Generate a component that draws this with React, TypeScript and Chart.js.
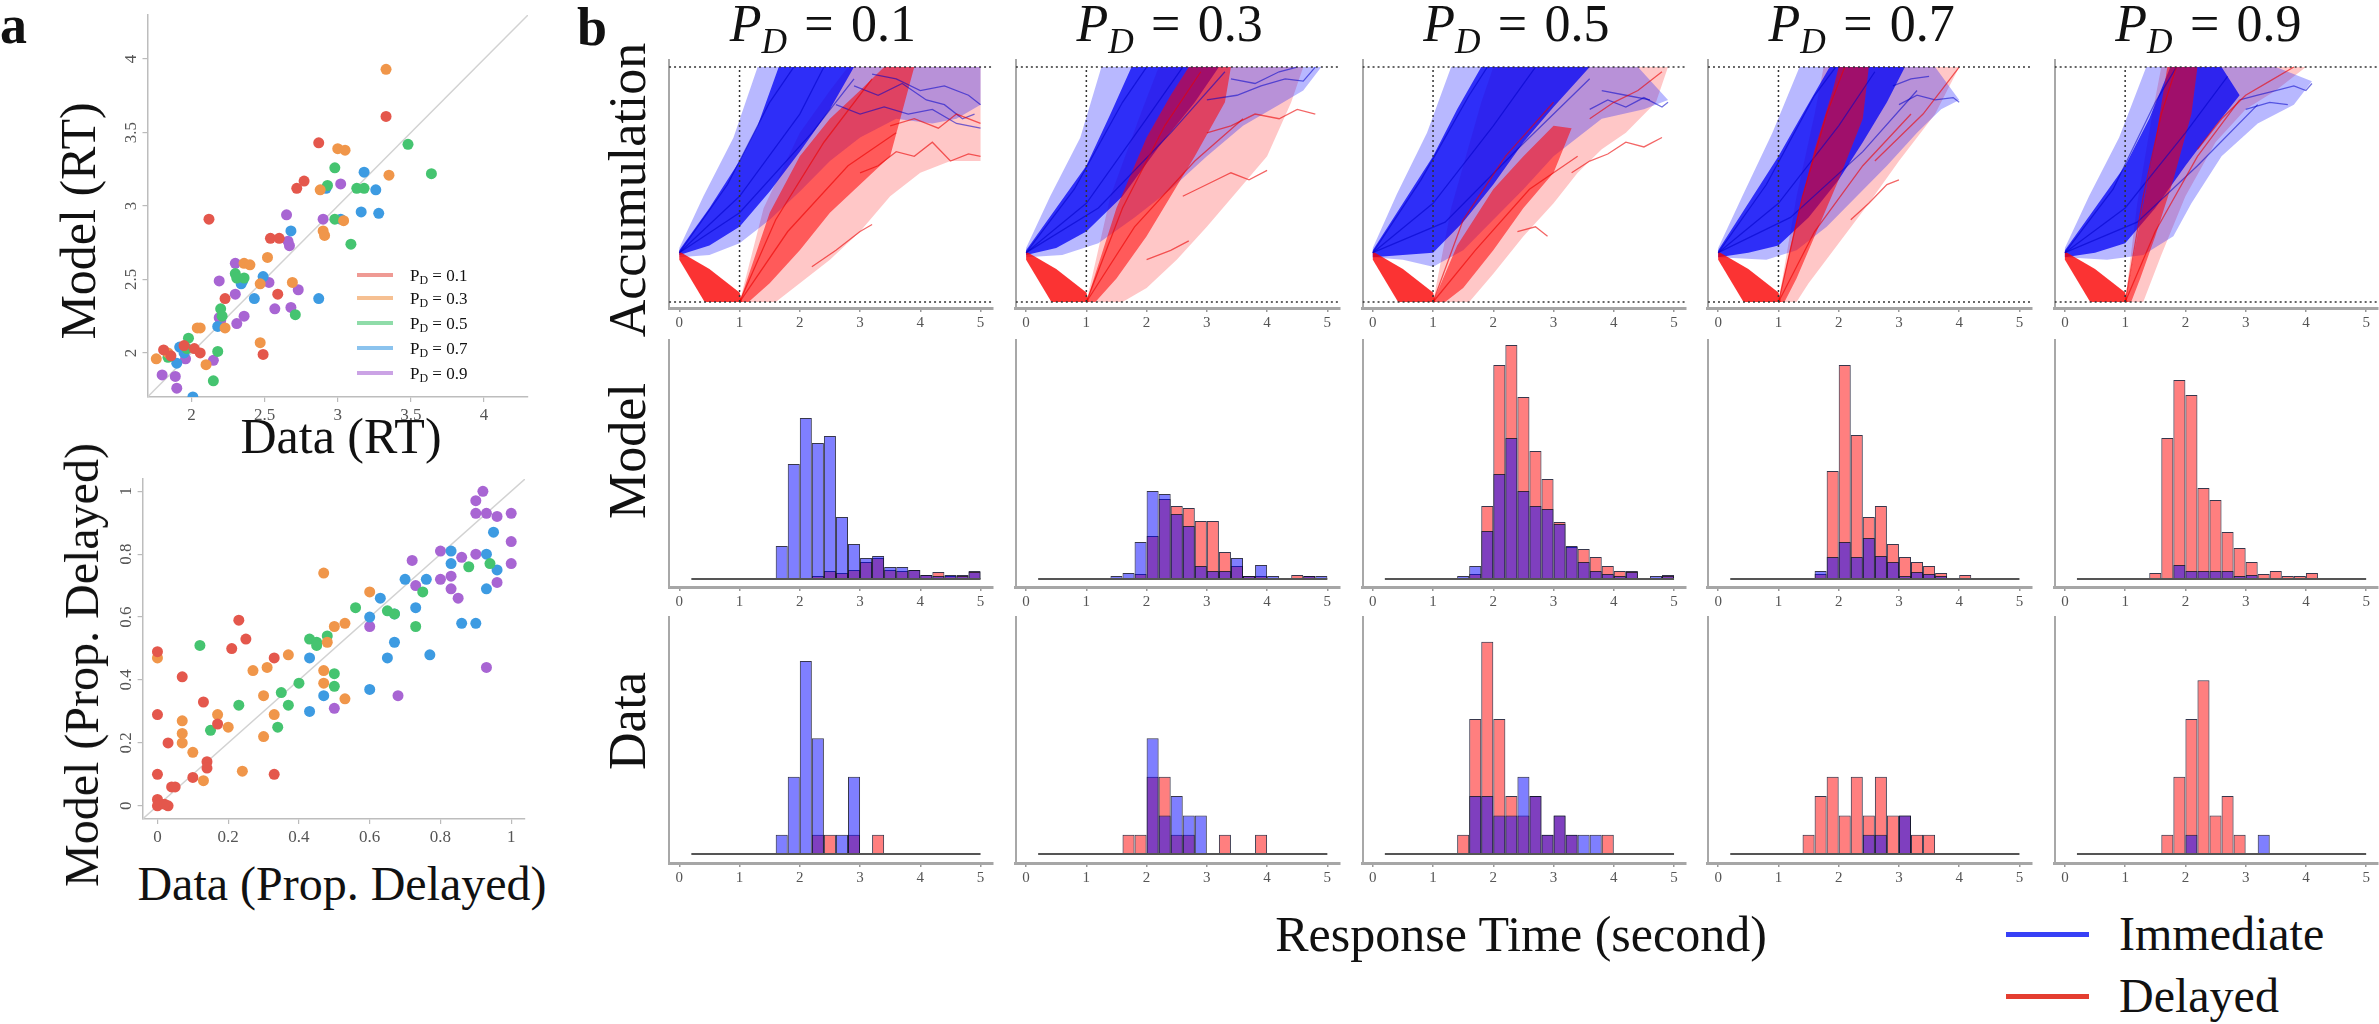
import React, { useEffect, useRef } from "react";
import { Chart, registerables } from "chart.js";

Chart.register(...registerables);

const SERIF = "'Liberation Serif', 'Times New Roman', 'DejaVu Serif', serif";

// ================= Panel a : scatter data =================
const RT_PD01 = [[3.33,3.61],[2.87,3.43],[2.77,3.17],[2.72,3.12],[2.12,2.91],[2.54,2.78],[2.60,2.78],[2.59,2.40],[2.23,2.37],[2.49,1.99],[2.06,2.00],[1.81,2.02],[2.02,2.03],[1.86,1.98],[1.95,2.05]];
const RT_PD03 = [[3.33,3.93],[3.00,3.39],[3.05,3.38],[3.35,3.21],[2.88,3.11],[3.04,2.90],[2.90,2.83],[2.91,2.80],[2.52,2.65],[2.36,2.61],[2.40,2.60],[2.69,2.48],[2.47,2.47],[2.47,2.07],[2.04,2.17],[2.06,2.17],[2.23,2.17],[2.10,1.92],[1.84,2.00],[1.76,1.96]];
const RT_PD05 = [[3.48,3.42],[3.64,3.22],[2.98,3.26],[3.13,3.12],[3.18,3.12],[2.93,3.14],[2.98,2.91],[3.09,2.74],[2.71,2.26],[2.30,2.54],[2.31,2.51],[2.36,2.51],[2.20,2.30],[2.21,2.25],[1.98,2.10],[1.97,2.03],[2.18,2.01],[2.15,1.81],[1.84,1.97]];
const RT_PD07 = [[3.18,3.23],[2.92,3.12],[3.26,3.11],[3.16,2.96],[3.28,2.95],[3.02,2.91],[2.68,2.83],[2.49,2.52],[2.43,2.37],[2.87,2.37],[2.34,2.47],[2.35,2.49],[2.18,2.18],[1.92,2.04],[1.95,2.00],[1.90,1.93],[2.01,1.70]];
const RT_PD09 = [[2.65,2.94],[2.90,2.91],[3.02,3.15],[2.66,2.76],[2.67,2.73],[2.30,2.61],[2.19,2.49],[2.53,2.48],[2.73,2.43],[2.57,2.30],[2.68,2.31],[2.31,2.20],[2.36,2.25],[2.30,2.40],[2.19,2.24],[2.20,2.22],[2.15,1.95],[1.96,1.96],[1.80,1.85],[1.89,1.84],[1.90,1.76]];

const PROP_PD01 = [[0,0.49],[0.07,0.41],[0,0.29],[0.03,0.20],[0,0.10],[0.04,0.06],[0.05,0.06],[0,0.02],[0,0],[0.03,0],[0.02,0.005],[0.10,0.09],[0.14,0.14],[0.14,0.12],[0.13,0.33],[0.21,0.50],[0.23,0.59],[0.25,0.53],[0.33,0.47],[0.33,0.10],[0.17,0.26]];
const PROP_PD03 = [[0,0.47],[0.07,0.27],[0.07,0.23],[0.07,0.20],[0.10,0.17],[0.13,0.08],[0.17,0.29],[0.20,0.25],[0.24,0.11],[0.27,0.43],[0.31,0.44],[0.30,0.35],[0.30,0.22],[0.33,0.29],[0.37,0.48],[0.47,0.74],[0.47,0.43],[0.47,0.39],[0.48,0.52],[0.50,0.57],[0.53,0.58],[0.53,0.34],[0.60,0.68]];
const PROP_PD05 = [[0.12,0.51],[0.15,0.24],[0.23,0.32],[0.35,0.36],[0.37,0.32],[0.34,0.25],[0.40,0.39],[0.43,0.53],[0.45,0.52],[0.45,0.51],[0.48,0.54],[0.50,0.42],[0.50,0.38],[0.56,0.63],[0.65,0.62],[0.67,0.61],[0.73,0.57],[0.75,0.68],[0.88,0.76],[0.94,0.77]];
const PROP_PD07 = [[0.43,0.47],[0.43,0.30],[0.47,0.35],[0.60,0.37],[0.60,0.60],[0.63,0.66],[0.67,0.61],[0.67,0.52],[0.65,0.47],[0.70,0.72],[0.73,0.63],[0.76,0.72],[0.77,0.48],[0.83,0.81],[0.83,0.77],[0.86,0.58],[0.90,0.58],[0.93,0.80],[0.93,0.69],[0.95,0.87],[0.96,0.75]];
const PROP_PD09 = [[0.90,0.97],[0.92,1.0],[0.90,0.93],[0.93,0.93],[0.96,0.92],[1.0,0.93],[1.0,0.84],[1.0,0.77],[0.96,0.71],[0.90,0.80],[0.86,0.79],[0.80,0.81],[0.72,0.78],[0.80,0.72],[0.83,0.73],[0.83,0.69],[0.85,0.66],[0.73,0.70],[0.60,0.57],[0.93,0.44],[0.68,0.35],[0.50,0.31]];

const GROUP_LABELS = ["0.1", "0.3", "0.5", "0.7", "0.9"];
const GROUP_COLORS = ["#E4574C", "#F0964A", "#45C470", "#3D9BE2", "#A865D3"];
const LEGEND_COLORS = ["rgba(228,87,76,0.6)", "rgba(240,150,74,0.6)", "rgba(69,196,112,0.6)", "rgba(61,155,226,0.6)", "rgba(168,101,211,0.6)"];

// ================= Panel b : accumulation traces (envelopes) =================
const RED_WEDGE = [[0,0.215],[0.5,0.14],[1.0,0.04],[1.04,0],[0.42,0],[0,0.18]];

const ACC_BLUE_HALO = [
  [[0,0.23],[0.4,0.45],[0.9,0.70],[1.3,1.0],[5.0,1.0],[5.0,0.84],[4.6,0.78],[4.2,0.76],[3.6,0.78],[3.0,0.70],[2.5,0.60],[2.0,0.47],[1.5,0.35],[1.0,0.25],[0.5,0.20],[0,0.19]],
  [[0,0.23],[0.4,0.45],[0.9,0.70],[1.25,1.0],[4.9,1.0],[4.6,0.90],[4.2,0.84],[3.6,0.75],[3.0,0.62],[2.4,0.48],[1.8,0.36],[1.2,0.25],[0.6,0.20],[0,0.19]],
  [[0,0.23],[0.4,0.46],[0.9,0.72],[1.3,1.0],[4.4,1.0],[4.9,0.86],[4.5,0.82],[3.8,0.78],[3.0,0.62],[2.5,0.48],[2.0,0.35],[1.5,0.22],[1.0,0.15],[0.5,0.18],[0,0.19]],
  [[0,0.23],[0.4,0.45],[0.9,0.72],[1.35,1.0],[3.6,1.0],[4.0,0.86],[3.7,0.82],[3.3,0.72],[2.8,0.58],[2.3,0.45],[1.8,0.32],[1.3,0.22],[0.8,0.18],[0,0.19]],
  [[0,0.23],[0.4,0.45],[0.9,0.70],[1.35,1.0],[3.5,1.0],[4.1,0.94],[3.8,0.84],[3.2,0.76],[2.6,0.62],[2.1,0.42],[1.8,0.28],[1.3,0.20],[0.7,0.18],[0,0.19]],
];
const ACC_BLUE_CORE = [
  [[0,0.22],[0.5,0.40],[1.0,0.60],[1.3,0.75],[1.65,1.0],[2.9,1.0],[2.5,0.82],[2.0,0.64],[1.5,0.47],[1.0,0.32],[0.5,0.24],[0,0.20]],
  [[0,0.22],[0.5,0.40],[1.0,0.58],[1.4,0.80],[1.75,1.0],[3.2,1.0],[2.8,0.85],[2.2,0.66],[1.6,0.45],[1.0,0.30],[0.5,0.23],[0,0.20]],
  [[0,0.22],[0.5,0.42],[1.0,0.62],[1.4,0.82],[1.8,1.0],[3.6,1.0],[3.0,0.83],[2.5,0.68],[2.0,0.50],[1.5,0.34],[1.0,0.21],[0.5,0.20],[0,0.19]],
  [[0,0.22],[0.5,0.42],[1.0,0.62],[1.4,0.80],[1.85,1.0],[3.1,1.0],[2.8,0.85],[2.4,0.68],[2.0,0.52],[1.5,0.36],[1.0,0.24],[0.5,0.21],[0,0.19]],
  [[0,0.22],[0.5,0.40],[1.0,0.58],[1.4,0.78],[1.75,1.0],[2.6,1.0],[2.9,0.88],[2.5,0.75],[2.0,0.58],[1.5,0.40],[1.0,0.25],[0.5,0.21],[0,0.19]],
];
const ACC_RED_CORE = [
  [[1.0,0],[1.5,0.38],[2.0,0.62],[2.5,0.78],[3.0,0.90],[3.4,1.0],[3.9,1.0],[3.5,0.62],[3.0,0.50],[2.5,0.38],[2.0,0.22],[1.5,0.08],[1.15,0]],
  [[1.0,0],[1.5,0.40],[2.0,0.70],[2.4,0.88],[2.7,1.0],[3.4,1.0],[3.3,0.85],[2.8,0.62],[2.4,0.45],[2.0,0.28],[1.5,0.10],[1.15,0]],
  [[1.0,0],[1.4,0.24],[2.0,0.48],[2.5,0.62],[3.0,0.75],[3.3,0.74],[3.0,0.55],[2.5,0.40],[2.0,0.22],[1.5,0.06],[1.2,0]],
  [[1.0,0],[1.3,0.35],[1.6,0.65],[1.9,0.90],[2.0,1.0],[2.5,1.0],[2.4,0.78],[2.0,0.52],[1.6,0.28],[1.3,0.10],[1.1,0]],
  [[1.0,0],[1.25,0.35],[1.5,0.68],[1.7,1.0],[2.2,1.0],[2.1,0.80],[1.8,0.52],[1.5,0.28],[1.25,0.10],[1.1,0]],
];
const ACC_RED_HALO = [
  [[1.0,0],[1.4,0.40],[2.0,0.72],[2.5,0.90],[2.8,1.0],[5.0,1.0],[5.0,0.60],[4.5,0.60],[4.0,0.55],[3.5,0.45],[3.0,0.30],[2.5,0.18],[2.0,0.08],[1.6,0]],
  [[1.0,0],[1.4,0.45],[1.9,0.80],[2.2,1.0],[4.6,1.0],[4.4,0.85],[4.0,0.62],[3.6,0.50],[3.0,0.32],[2.5,0.18],[2.0,0.06],[1.6,0]],
  [[1.0,0],[1.3,0.40],[1.8,0.85],[2.0,1.0],[4.9,1.0],[4.7,0.85],[4.2,0.72],[3.8,0.65],[3.4,0.55],[3.0,0.42],[2.5,0.28],[2.0,0.12],[1.6,0]],
  [[1.0,0],[1.3,0.45],[1.6,0.80],[1.75,1.0],[4.0,1.0],[3.6,0.80],[3.0,0.60],[2.5,0.42],[2.0,0.25],[1.5,0.08],[1.3,0]],
  [[1.0,0],[1.2,0.42],[1.45,0.80],[1.6,1.0],[4.0,1.0],[3.5,0.90],[3.0,0.82],[2.5,0.68],[2.0,0.45],[1.6,0.20],[1.3,0]],
];
const ACC_BLUE_TRACES = [
  [[[2.9,0.92],[3.3,0.88],[3.7,0.93],[4.1,0.86],[4.4,0.84],[4.7,0.78],[4.9,0.80]], [[3.2,0.97],[3.6,0.95],[4.0,0.90],[4.4,0.92],[4.8,0.88],[5.0,0.84]], [[2.6,0.84],[3.0,0.80],[3.4,0.83],[3.8,0.80],[4.2,0.82],[4.6,0.76],[5.0,0.74]], [[0,0.21],[0.8,0.50],[1.5,0.85],[1.9,1.0]], [[0,0.21],[1.0,0.45],[2.0,0.80],[2.4,1.0]], [[0,0.21],[1.0,0.38],[2.2,0.72],[2.9,0.95]]],
  [[[3.0,0.86],[3.5,0.88],[3.9,0.92],[4.3,0.95],[4.6,0.94],[4.8,1.0]], [[3.4,0.95],[3.8,0.93],[4.2,0.98],[4.5,1.0]], [[0,0.21],[0.8,0.48],[1.6,0.85],[2.0,1.0]], [[0,0.21],[1.0,0.42],[2.0,0.78],[2.6,1.0]], [[0,0.21],[1.2,0.40],[2.4,0.72],[3.3,0.98]]],
  [[[3.6,0.82],[3.9,0.86],[4.2,0.83],[4.5,0.87],[4.8,0.83],[4.9,0.85]], [[3.8,0.90],[4.2,0.88],[4.6,0.86]], [[0,0.21],[0.8,0.52],[1.6,0.88],[1.9,1.0]], [[0,0.21],[1.0,0.42],[2.0,0.75],[2.7,1.0]], [[0,0.21],[1.2,0.34],[2.4,0.65],[3.6,0.95]]],
  [[[3.0,0.84],[3.3,0.88],[3.6,0.86],[3.9,0.87],[4.0,0.85]], [[2.9,0.92],[3.2,0.95],[3.5,0.96]], [[0,0.21],[0.8,0.50],[1.6,0.88],[1.95,1.0]], [[0,0.21],[1.0,0.42],[2.0,0.75],[2.6,0.98]], [[0,0.21],[1.2,0.36],[2.4,0.64],[3.3,0.90]]],
  [[[2.9,0.86],[3.2,0.88],[3.5,0.90],[3.8,0.92],[4.0,0.90],[4.1,0.93]], [[3.0,0.82],[3.4,0.85],[3.7,0.84]], [[0,0.21],[0.8,0.48],[1.5,0.85],[1.85,1.0]], [[0,0.21],[1.0,0.40],[2.0,0.72],[2.7,0.96]], [[0,0.21],[1.2,0.34],[2.2,0.58],[3.2,0.84]]],
];
const ACC_RED_TRACES = [
  [[[3.0,0.55],[3.3,0.58],[3.6,0.64],[3.9,0.62],[4.2,0.68],[4.5,0.60],[4.8,0.63],[5.0,0.62]], [[3.5,0.75],[3.9,0.78],[4.3,0.74],[4.6,0.80],[5.0,0.76]], [[2.2,0.15],[2.6,0.22],[3.0,0.30],[3.2,0.33]], [[1.0,0],[1.6,0.35],[2.4,0.68],[3.2,0.95]], [[1.0,0],[1.8,0.30],[2.8,0.58],[3.6,0.72]]],
  [[[3.0,0.72],[3.4,0.75],[3.8,0.80],[4.2,0.78],[4.5,0.82],[4.8,0.80]], [[2.6,0.45],[3.0,0.50],[3.4,0.55],[3.7,0.52],[4.0,0.56]], [[2.0,0.18],[2.4,0.22],[2.7,0.26]], [[1.0,0],[1.6,0.40],[2.3,0.75],[2.9,0.98]], [[1.0,0],[1.8,0.32],[2.8,0.60],[3.6,0.78]]],
  [[[3.3,0.55],[3.6,0.60],[3.9,0.63],[4.2,0.68],[4.5,0.66],[4.8,0.70]], [[2.4,0.30],[2.7,0.32],[2.9,0.28]], [[3.6,0.78],[4.0,0.85],[4.4,0.90],[4.8,0.98]], [[1.0,0],[1.5,0.35],[2.2,0.62],[3.0,0.85]], [[1.0,0],[1.7,0.22],[2.6,0.48],[3.4,0.62]]],
  [[[2.6,0.60],[3.0,0.70],[3.4,0.80],[3.7,0.90],[4.0,1.0]], [[2.2,0.35],[2.5,0.42],[2.8,0.50],[3.0,0.52]], [[1.0,0],[1.4,0.45],[1.8,0.80],[2.1,1.0]], [[1.0,0],[1.6,0.30],[2.4,0.58],[3.2,0.80]]],
  [[[2.2,0.65],[2.6,0.78],[3.0,0.88],[3.4,0.94],[3.8,1.0]], [[1.0,0],[1.3,0.45],[1.6,0.80],[1.85,1.0]], [[1.0,0],[1.5,0.30],[2.2,0.62],[2.9,0.86]]],
];

// ================= Panel b : histograms (bins of 0.2 s from 0.2 to 5.0) =================
const BIN_STARTS = [0.2,0.4,0.6,0.8,1.0,1.2,1.4,1.6,1.8,2.0,2.2,2.4,2.6,2.8,3.0,3.2,3.4,3.6,3.8,4.0,4.2,4.4,4.6,4.8];
const BIN_WIDTH = 0.2;

const MODEL_IMM_01 = [0,0,0,0,0,0,0,0.33,1.15,1.61,1.36,1.43,0.62,0.35,0.21,0.23,0.12,0.12,0.09,0.04,0.03,0.04,0.03,0.07];
const MODEL_DEL_01 = [0,0,0,0,0,0,0,0,0,0,0.03,0.08,0.06,0.09,0.17,0.21,0.09,0.08,0.09,0.04,0.07,0.03,0.04,0.08];
const MODEL_IMM_03 = [0,0,0,0,0,0,0.03,0.06,0.37,0.88,0.85,0.65,0.53,0.13,0.08,0.08,0.21,0.03,0.14,0.03,0,0,0.03,0.03];
const MODEL_DEL_03 = [0,0,0,0,0,0,0,0,0.05,0.43,0.80,0.73,0.71,0.58,0.58,0.27,0.13,0.03,0.03,0,0,0.04,0.03,0];
const MODEL_IMM_05 = [0,0,0,0,0,0,0.03,0.13,0.48,1.05,1.41,0.88,0.73,0.70,0.55,0.33,0.17,0.08,0.05,0.03,0.07,0,0.03,0.03];
const MODEL_DEL_05 = [0,0,0,0,0,0,0,0.05,0.73,2.14,2.34,1.82,1.28,1.00,0.57,0.32,0.30,0.22,0.13,0.08,0.08,0,0,0.04];
const MODEL_IMM_07 = [0,0,0,0,0,0,0,0.08,0.22,0.37,0.22,0.41,0.23,0.17,0.03,0.07,0.05,0.03,0,0,0,0,0,0];
const MODEL_DEL_07 = [0,0,0,0,0,0,0,0.05,1.08,2.14,1.44,0.62,0.73,0.35,0.22,0.17,0.13,0.06,0,0.04,0,0,0,0];
const MODEL_IMM_09 = [0,0,0,0,0,0,0,0,0.14,0.08,0.08,0.08,0.08,0.03,0.04,0,0,0,0,0,0,0,0,0];
const MODEL_DEL_09 = [0,0,0,0,0,0,0.06,1.41,1.99,1.84,0.91,0.79,0.47,0.31,0.17,0.05,0.08,0.03,0.03,0.06,0,0,0,0];

const DATA_IMM_01 = [0,0,0,0,0,0,0,1,4,10,6,0,1,4,0,0,0,0,0,0,0,0,0,0];
const DATA_DEL_01 = [0,0,0,0,0,0,0,0,0,0,1,1,0,1,0,1,0,0,0,0,0,0,0,0];
const DATA_IMM_03 = [0,0,0,0,0,0,0,0,0,6,2,3,2,2,0,0,0,0,0,0,0,0,0,0];
const DATA_DEL_03 = [0,0,0,0,0,0,0,1,1,4,4,1,1,0,0,1,0,0,1,0,0,0,0,0];
const DATA_IMM_05 = [0,0,0,0,0,0,0,3,3,2,2,4,3,1,2,1,1,1,0,0,0,0,0,0];
const DATA_DEL_05 = [0,0,0,0,0,0,1,7,11,7,3,2,3,1,2,1,0,0,1,0,0,0,0,0];
const DATA_IMM_07 = [0,0,0,0,0,0,0,0,0,0,0,1,1,0,2,0,0,0,0,0,0,0,0,0];
const DATA_DEL_07 = [0,0,0,0,0,0,1,3,4,2,4,2,4,2,2,1,1,0,0,0,0,0,0,0];
const DATA_IMM_09 = [0,0,0,0,0,0,0,0,0,1,0,0,0,0,0,1,0,0,0,0,0,0,0,0];
const DATA_DEL_09 = [0,0,0,0,0,0,0,1,4,7,9,2,3,1,0,0,0,0,0,0,0,0,0,0];

const MODEL_IMM = [MODEL_IMM_01, MODEL_IMM_03, MODEL_IMM_05, MODEL_IMM_07, MODEL_IMM_09];
const MODEL_DEL = [MODEL_DEL_01, MODEL_DEL_03, MODEL_DEL_05, MODEL_DEL_07, MODEL_DEL_09];
const DATA_IMM = [DATA_IMM_01, DATA_IMM_03, DATA_IMM_05, DATA_IMM_07, DATA_IMM_09];
const DATA_DEL = [DATA_DEL_01, DATA_DEL_03, DATA_DEL_05, DATA_DEL_07, DATA_DEL_09];

// ================= Layout =================
const COL_T0 = [679.3, 1026.1, 1372.8, 1718.2, 2064.9];
const PX_S = 60.25;
const XB_MIN = -0.17;
const XB_MAX = 5.2;
const ROW_TOP = [60, 340, 617];
const ROW_BOT = [308, 587, 863];

type Area = { l: number; t: number; r: number; b: number };

function ChartBox({ area, yW, xH, make }: { area: Area; yW: number; xH: number; make: (p: any) => any }) {
  const ref = useRef<HTMLCanvasElement | null>(null);
  const left = Math.floor(area.l - yW - 4);
  const top = Math.floor(area.t - 4);
  const right = Math.ceil(area.r + 8);
  const bottom = Math.ceil(area.b + xH + 2);
  const W = right - left;
  const Hh = bottom - top;
  useEffect(() => {
    const padding = { left: area.l - yW - left, top: area.t - top, right: right - area.r, bottom: bottom - area.b - xH };
    const chart = new Chart(ref.current as HTMLCanvasElement, make(padding));
    return () => chart.destroy();
  }, []);
  return <canvas ref={ref} width={W} height={Hh} style={{ position: "absolute", left, top, width: W, height: Hh, display: "block" }} />;
}

function baseOptions(padding: any, xs: any, ys: any) {
  return {
    animation: false,
    responsive: false,
    maintainAspectRatio: false,
    events: [],
    layout: { padding, autoPadding: false },
    plugins: { legend: { display: false }, tooltip: { enabled: false }, title: { display: false } },
    scales: { x: xs, y: ys },
  };
}

const fmt = (v: any) => String(parseFloat(Number(v).toFixed(2)));

function xScaleB(xH: number) {
  return {
    type: "linear", min: XB_MIN, max: XB_MAX, offset: false,
    ticks: { stepSize: 1, includeBounds: false, font: { family: SERIF, size: 15 }, color: "#555", padding: 2, maxRotation: 0, autoSkip: false, callback: fmt },
    grid: { display: true, drawOnChartArea: false, drawTicks: true, tickLength: 4, color: "#999", lineWidth: 1.5, offset: false },
    border: { display: true, color: "#a6a6a6", width: 3 },
    afterFit: (s: any) => { s.height = xH; },
  };
}
function yScaleB(min: number, max: number, yW: number) {
  return {
    type: "linear", min, max,
    ticks: { display: false },
    grid: { display: false },
    border: { display: true, color: "#a8a8a8", width: 2 },
    afterFit: (s: any) => { s.width = yW; },
  };
}

const pts = (a: number[][]) => a.map(([x, y]) => ({ x, y }));

function accConfig(c: number, padding: any) {
  const poly = (p: number[][], color: string, order: number) => ({
    type: "line", data: pts(p), fill: "shape", backgroundColor: color, borderColor: "rgba(0,0,0,0)", borderWidth: 0, pointRadius: 0, tension: 0, order,
  });
  const line = (p: number[][], color: string, width: number, order: number, dash: number[] = []) => ({
    type: "line", data: pts(p), fill: false, borderColor: color, borderWidth: width, pointRadius: 0, tension: 0, borderDash: dash, order,
  });
  const datasets = [
    line([[XB_MIN, 0], [XB_MAX, 0]], "#333", 1.5, 0, [2, 3]),
    line([[XB_MIN, 1], [XB_MAX, 1]], "#333", 1.5, 0, [2, 3]),
    line([[1, 0], [1, 1]], "#333", 1.5, 0, [2, 3]),
    ...ACC_RED_TRACES[c].map((t) => line(t, "rgba(235,0,0,0.6)", 1.3, 1)),
    ...ACC_BLUE_TRACES[c].map((t) => line(t, "rgba(0,0,200,0.55)", 1.3, 1)),
    poly(RED_WEDGE, "rgba(250,0,0,0.8)", 2),
    poly(ACC_RED_CORE[c], "rgba(255,0,0,0.55)", 3),
    poly(ACC_BLUE_CORE[c], "rgba(0,0,245,0.75)", 4),
    poly(ACC_BLUE_HALO[c], "rgba(20,20,255,0.3)", 5),
    poly(ACC_RED_HALO[c], "rgba(255,20,20,0.24)", 6),
  ];
  return { type: "line", data: { datasets }, options: baseOptions(padding, xScaleB(26), yScaleB(-0.0255, 1.03, 4)) };
}

function histConfig(imm: number[], del: number[], yMin: number, yMax: number, padding: any) {
  const bars = (vals: number[], color: string, order: number, label: string) => ({
    type: "bar", label,
    data: BIN_STARTS.map((b, i) => ({ x: b + BIN_WIDTH / 2, y: vals[i] > 0 ? vals[i] : null })),
    backgroundColor: color, borderColor: "rgba(20,20,45,0.85)", borderWidth: 1, borderSkipped: false,
    grouped: false, barPercentage: 1, categoryPercentage: 1, inflateAmount: 0, order,
  });
  const datasets = [
    { type: "line", data: [{ x: BIN_STARTS[0], y: 0 }, { x: BIN_STARTS[BIN_STARTS.length - 1] + BIN_WIDTH, y: 0 }], borderColor: "#555", borderWidth: 2, pointRadius: 0, fill: false, order: 0 },
    bars(imm, "rgba(0,0,255,0.5)", 1, "Immediate"),
    bars(del, "rgba(255,0,0,0.5)", 2, "Delayed"),
  ];
  return { type: "bar", data: { datasets }, options: baseOptions(padding, xScaleB(26), yScaleB(yMin, yMax, 4)) };
}

const rotYTicks = {
  id: "rotYTicks",
  afterDraw(chart: any) {
    const ys = chart.scales.y;
    const ctx = chart.ctx;
    ctx.save();
    ctx.fillStyle = "#555";
    ctx.font = `17px ${SERIF}`;
    ctx.textAlign = "center";
    ctx.textBaseline = "middle";
    for (const t of ys.ticks) {
      const py = ys.getPixelForValue(t.value);
      ctx.save();
      ctx.translate(chart.chartArea.left - 16, py);
      ctx.rotate(-Math.PI / 2);
      ctx.fillText(fmt(t.value), 0, 0);
      ctx.restore();
    }
    ctx.restore();
  },
};

function scatterConfig(groups: number[][][], lo: number, hi: number, step: number, xH: number, yW: number, padding: any) {
  const axisCommon = {
    type: "linear", min: lo, max: hi,
    grid: { display: true, drawOnChartArea: false, drawTicks: true, tickLength: 5, color: "#bbb", lineWidth: 1.2 },
    border: { display: true, color: "#bdbdbd", width: 1.5 },
  };
  const xs = { ...axisCommon, ticks: { stepSize: step, includeBounds: false, font: { family: SERIF, size: 17 }, color: "#555", padding: 3, maxRotation: 0, autoSkip: false, callback: fmt }, afterFit: (s: any) => { s.height = xH; } };
  const ys = { ...axisCommon, ticks: { stepSize: step, includeBounds: false, display: false }, afterFit: (s: any) => { s.width = yW; } };
  const datasets: any[] = groups.map((g, i) => ({
    type: "scatter", label: "P_D = " + GROUP_LABELS[i], data: pts(g), backgroundColor: GROUP_COLORS[i], borderWidth: 0, pointRadius: 5.5, order: 1 + i,
  }));
  datasets.push({ type: "line", data: [{ x: lo, y: lo }, { x: hi, y: hi }], borderColor: "#d2d2d2", borderWidth: 1.5, pointRadius: 0, fill: false, order: 10 });
  return { type: "scatter", data: { datasets }, options: baseOptions(padding, xs, ys), plugins: [rotYTicks] };
}

// ================= Text helpers =================
const TXT = "#111";
function H({ x, base, size, align = "left", bold = false, children }: any) {
  return (
    <div style={{ position: "absolute", left: x, top: base - 0.8375 * size, fontSize: size, lineHeight: `${size}px`, fontFamily: SERIF, fontWeight: bold ? 700 : 400, whiteSpace: "nowrap", color: TXT, transform: align === "center" ? "translateX(-50%)" : undefined }}>
      {children}
    </div>
  );
}
function V({ baseX, cy, size, children }: any) {
  return (
    <div style={{ position: "absolute", left: baseX - 0.3375 * size, top: cy, fontSize: size, lineHeight: `${size}px`, fontFamily: SERIF, whiteSpace: "nowrap", color: TXT, transform: "translate(-50%,-50%) rotate(-90deg)" }}>
      {children}
    </div>
  );
}

export default function App() {
  const colArea = (c: number, r: number): Area => ({
    l: COL_T0[c] + XB_MIN * PX_S,
    r: COL_T0[c] + XB_MAX * PX_S,
    t: ROW_TOP[r],
    b: ROW_BOT[r],
  });
  const rtGroups = [RT_PD01, RT_PD03, RT_PD05, RT_PD07, RT_PD09];
  const propGroups = [PROP_PD01, PROP_PD03, PROP_PD05, PROP_PD07, PROP_PD09];
  const legendRows = [275, 298, 323, 348, 373];

  return (
    <div style={{ position: "absolute", left: 0, top: 0, width: 2379, height: 1024, overflow: "hidden", background: "#fff" }}>
      {/* Panel a */}
      <ChartBox area={{ l: 147.5, t: 15, r: 528, b: 397 }} yW={30} xH={32} make={(p) => scatterConfig(rtGroups, 1.7, 4.3, 0.5, 32, 30, p)} />
      <ChartBox area={{ l: 142.6, t: 479, r: 525, b: 819 }} yW={30} xH={32} make={(p) => scatterConfig(propGroups, -0.042, 1.039, 0.2, 32, 30, p)} />

      {/* Panel b */}
      {[0, 1, 2, 3, 4].map((c) => (
        <React.Fragment key={c}>
          <ChartBox area={colArea(c, 0)} yW={4} xH={26} make={(p) => accConfig(c, p)} />
          <ChartBox area={colArea(c, 1)} yW={4} xH={26} make={(p) => histConfig(MODEL_IMM[c], MODEL_DEL[c], -0.08, 2.39, p)} />
          <ChartBox area={colArea(c, 2)} yW={4} xH={26} make={(p) => histConfig(DATA_IMM[c], DATA_DEL[c], -0.466, 12.28, p)} />
        </React.Fragment>
      ))}

      {/* Panel labels */}
      <H x={0} base={43} size={54} bold>a</H>
      <H x={577} base={45} size={54} bold>b</H>

      {/* Panel a titles */}
      <V baseX={95} cy={221} size={50}>Model (RT)</V>
      <H x={341} base={453} size={50} align="center">Data (RT)</H>
      <V baseX={98} cy={665} size={48}>Model (Prop. Delayed)</V>
      <H x={342} base={900} size={48} align="center">Data (Prop. Delayed)</H>

      {/* Panel a legend */}
      {GROUP_LABELS.map((g, i) => (
        <React.Fragment key={g}>
          <div style={{ position: "absolute", left: 357, top: legendRows[i] - 2, width: 36, height: 4, background: LEGEND_COLORS[i] }} />
          <H x={410} base={legendRows[i] + 6} size={17}>
            P<span style={{ fontSize: "0.7em", position: "relative", top: "0.25em" }}>D</span>{" = " + g}
          </H>
        </React.Fragment>
      ))}

      {/* Column titles */}
      {GROUP_LABELS.map((g, c) => (
        <H key={g} x={COL_T0[c] + 143.5} base={42} size={52} align="center">
          <span style={{ fontStyle: "italic" }}>P</span>
          <span style={{ fontStyle: "italic", fontSize: "0.68em", position: "relative", top: "0.32em" }}>D</span>
          {"\u2004=\u2004" + g}
        </H>
      ))}

      {/* Row labels */}
      <V baseX={646} cy={190} size={52}>Accumulation</V>
      <V baseX={646} cy={451} size={52}>Model</V>
      <V baseX={646} cy={721} size={52}>Data</V>

      {/* Shared x title */}
      <H x={1521} base={951} size={50} align="center">Response Time (second)</H>

      {/* Panel b legend */}
      <div style={{ position: "absolute", left: 2006, top: 932, width: 83, height: 5, background: "rgba(20,30,245,0.85)" }} />
      <H x={2119} base={950} size={48}>Immediate</H>
      <div style={{ position: "absolute", left: 2006, top: 994, width: 83, height: 5, background: "rgba(225,40,25,0.9)" }} />
      <H x={2119} base={1012} size={48}>Delayed</H>
    </div>
  );
}
